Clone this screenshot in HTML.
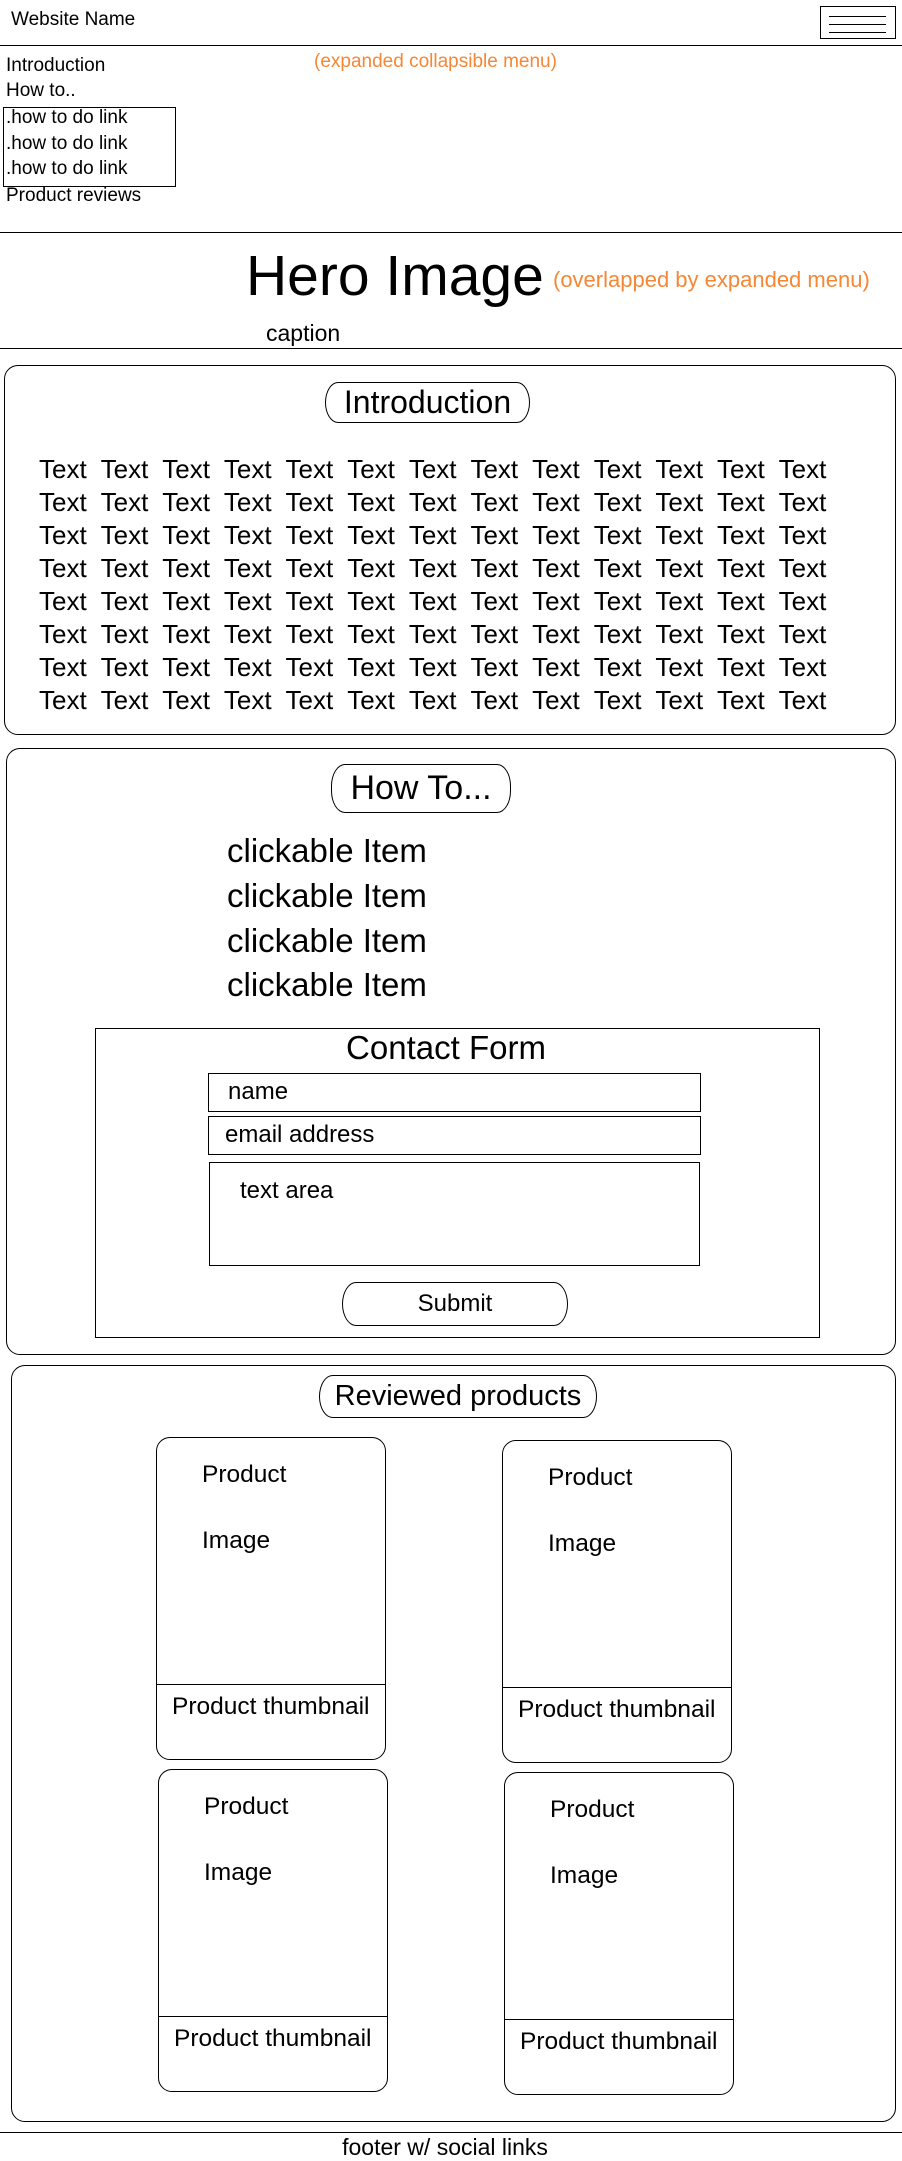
<!DOCTYPE html>
<html><head><meta charset="utf-8"><style>
*{margin:0;padding:0;box-sizing:border-box}
body{width:902px;height:2161px;position:relative;background:#fff;font-family:"Liberation Sans",sans-serif;color:#000;overflow:hidden}
.a{position:absolute}
.t{position:absolute;white-space:nowrap;line-height:1}
.hl{position:absolute;left:0;width:902px;height:0;border-top:1.5px solid #000}
.box{position:absolute;border:1.2px solid #000;border-radius:14px}
.rect{position:absolute;border:1.2px solid #000}
.pill{position:absolute;border:1.2px solid #000;border-radius:14px/22px;display:flex;align-items:center;justify-content:center;white-space:nowrap}
.or{color:#f58735}
.tx{position:absolute;left:39px;font-size:26px;word-spacing:7.2px;white-space:nowrap;line-height:33px}
.card{position:absolute;border:1.2px solid #000;border-radius:14px;width:230px;height:323px}
.card .dv{position:absolute;left:0;right:0;border-top:1.2px solid #000}
.card .t{font-size:24.5px}
</style></head><body>
<div class="t" style="left:11px;top:10px;font-size:19px">Website Name</div>
<div class="rect" style="left:820px;top:6px;width:76px;height:33px"></div>
<div class="a" style="left:829px;top:16px;width:57px;border-top:1px solid #000"></div>
<div class="a" style="left:829px;top:24px;width:57px;border-top:1px solid #000"></div>
<div class="a" style="left:829px;top:32px;width:57px;border-top:1px solid #000"></div>
<div class="hl" style="top:45px"></div>
<div class="t" style="left:6px;top:56px;font-size:19px">Introduction</div>
<div class="t" style="left:6px;top:81px;font-size:19px">How to..</div>
<div class="rect" style="left:3px;top:107px;width:173px;height:80px"></div>
<div class="t" style="left:6px;top:108px;font-size:19px">.how to do link</div>
<div class="t" style="left:6px;top:134px;font-size:19px">.how to do link</div>
<div class="t" style="left:6px;top:159px;font-size:19px">.how to do link</div>
<div class="t" style="left:6px;top:186px;font-size:19px">Product reviews</div>
<div class="t or" style="left:314px;top:52px;font-size:19px">(expanded collapsible menu)</div>
<div class="hl" style="top:232px"></div>
<div class="t" style="left:246px;top:248px;font-size:57px">Hero Image</div>
<div class="t or" style="left:553px;top:269px;font-size:22px">(overlapped by expanded menu)</div>
<div class="t" style="left:266px;top:322px;font-size:23px">caption</div>
<div class="hl" style="top:348px"></div>

<div class="box" style="left:4px;top:365px;width:892px;height:370px"></div>
<div class="pill" style="left:325px;top:382px;width:205px;height:41px;font-size:32px">Introduction</div>
<div class="tx" style="top:453px">Text Text Text Text Text Text Text Text Text Text Text Text Text<br>Text Text Text Text Text Text Text Text Text Text Text Text Text<br>Text Text Text Text Text Text Text Text Text Text Text Text Text<br>Text Text Text Text Text Text Text Text Text Text Text Text Text<br>Text Text Text Text Text Text Text Text Text Text Text Text Text<br>Text Text Text Text Text Text Text Text Text Text Text Text Text<br>Text Text Text Text Text Text Text Text Text Text Text Text Text<br>Text Text Text Text Text Text Text Text Text Text Text Text Text</div>

<div class="box" style="left:6px;top:748px;width:890px;height:607px"></div>
<div class="pill" style="left:331px;top:764px;width:180px;height:49px;font-size:34px">How To...</div>
<div class="t" style="left:227px;top:834px;font-size:33px">clickable Item</div>
<div class="t" style="left:227px;top:879px;font-size:33px">clickable Item</div>
<div class="t" style="left:227px;top:924px;font-size:33px">clickable Item</div>
<div class="t" style="left:227px;top:968px;font-size:33px">clickable Item</div>
<div class="rect" style="left:95px;top:1028px;width:725px;height:310px"></div>
<div class="t" style="left:296px;top:1031px;width:300px;text-align:center;font-size:33px">Contact Form</div>
<div class="rect" style="left:208px;top:1073px;width:493px;height:39px"></div>
<div class="t" style="left:228px;top:1080px;font-size:24px">name</div>
<div class="rect" style="left:208px;top:1116px;width:493px;height:39px"></div>
<div class="t" style="left:225px;top:1123px;font-size:24px">email address</div>
<div class="rect" style="left:209px;top:1162px;width:491px;height:104px"></div>
<div class="t" style="left:240px;top:1179px;font-size:24px">text area</div>
<div class="pill" style="left:342px;top:1282px;width:226px;height:44px;font-size:24px">Submit</div>

<div class="box" style="left:11px;top:1365px;width:885px;height:757px"></div>
<div class="pill" style="left:319px;top:1375px;width:278px;height:43px;font-size:29px">Reviewed products</div>

<div class="card" style="left:156px;top:1437px"><div class="dv" style="top:246px"></div>
<div class="t" style="left:45px;top:25px">Product</div><div class="t" style="left:45px;top:91px">Image</div><div class="t" style="left:15px;top:257px">Product thumbnail</div></div>
<div class="card" style="left:502px;top:1440px"><div class="dv" style="top:246px"></div>
<div class="t" style="left:45px;top:25px">Product</div><div class="t" style="left:45px;top:91px">Image</div><div class="t" style="left:15px;top:257px">Product thumbnail</div></div>
<div class="card" style="left:158px;top:1769px"><div class="dv" style="top:246px"></div>
<div class="t" style="left:45px;top:25px">Product</div><div class="t" style="left:45px;top:91px">Image</div><div class="t" style="left:15px;top:257px">Product thumbnail</div></div>
<div class="card" style="left:504px;top:1772px"><div class="dv" style="top:246px"></div>
<div class="t" style="left:45px;top:25px">Product</div><div class="t" style="left:45px;top:91px">Image</div><div class="t" style="left:15px;top:257px">Product thumbnail</div></div>

<div class="hl" style="top:2132px"></div>
<div class="t" style="left:0;width:890px;text-align:center;top:2136px;font-size:23px">footer w/ social links</div>
</body></html>
